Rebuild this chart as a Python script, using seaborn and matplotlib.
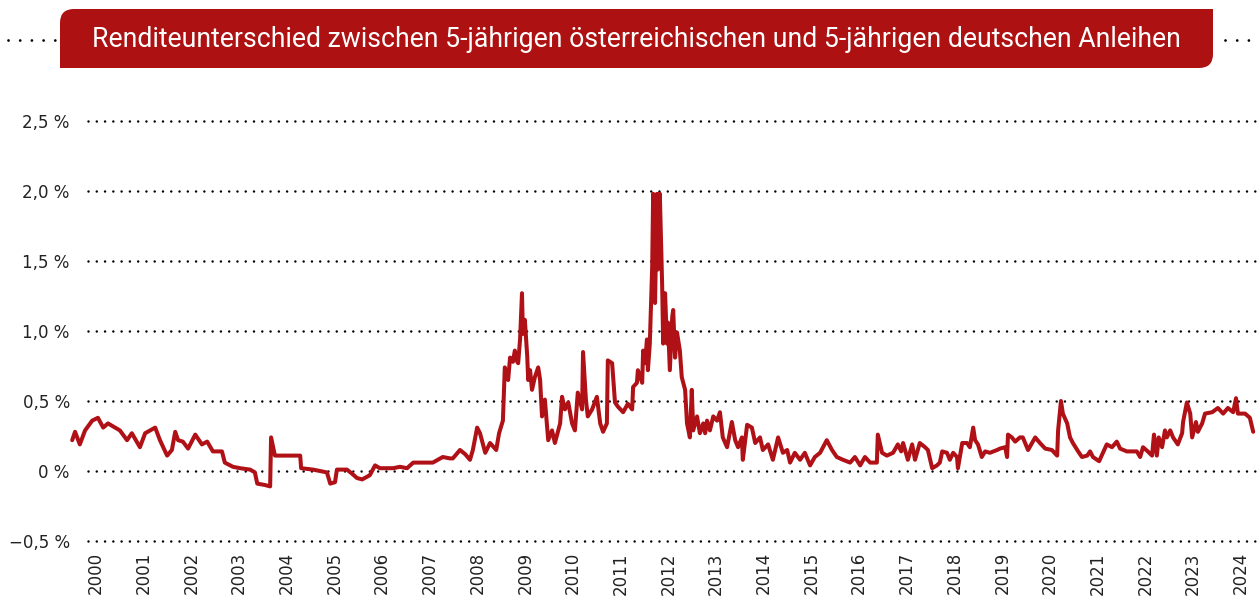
import seaborn as sns
import matplotlib.pyplot as plt
import pandas as pd
from matplotlib.path import Path
from matplotlib.patches import PathPatch

# Renditeunterschied AT-DE 5J (Prozentpunkte)
jahre = [
    1999.50, 1999.56, 1999.66, 1999.77, 1999.92, 2000.04, 2000.15, 2000.25, 2000.50, 2000.65,
    2000.75, 2000.92, 2001.03, 2001.24, 2001.34, 2001.49, 2001.59, 2001.66, 2001.72, 2001.82,
    2001.93, 2002.08, 2002.22, 2002.33, 2002.45, 2002.64, 2002.70, 2002.87, 2003.02, 2003.23,
    2003.33, 2003.38, 2003.54, 2003.65, 2003.67, 2003.75, 2004.23, 2004.28, 2004.30, 2004.55,
    2004.84, 2004.91, 2005.01, 2005.05, 2005.26, 2005.37, 2005.47, 2005.58, 2005.74, 2005.85,
    2005.95, 2006.23, 2006.37, 2006.52, 2006.65, 2006.86, 2007.06, 2007.27, 2007.42, 2007.48,
    2007.63, 2007.74, 2007.84, 2007.90, 2007.99, 2008.05, 2008.09, 2008.16, 2008.26, 2008.39,
    2008.45, 2008.53, 2008.57, 2008.64, 2008.68, 2008.74, 2008.78, 2008.83, 2008.85, 2008.89,
    2008.93, 2008.95, 2008.99, 2009.04, 2009.06, 2009.10, 2009.14, 2009.20, 2009.27, 2009.31,
    2009.35, 2009.41, 2009.48, 2009.56, 2009.62, 2009.73, 2009.77, 2009.83, 2009.90, 2009.98,
    2010.04, 2010.10, 2010.19, 2010.21, 2010.27, 2010.31, 2010.40, 2010.50, 2010.57, 2010.63,
    2010.71, 2010.73, 2010.82, 2010.88, 2010.94, 2011.05, 2011.15, 2011.24, 2011.26, 2011.34,
    2011.36, 2011.45, 2011.47, 2011.51, 2011.55, 2011.57, 2011.61, 2011.66, 2011.68, 2011.72,
    2011.76, 2011.78, 2011.82, 2011.87, 2011.89, 2011.93, 2011.97, 2011.99, 2012.03, 2012.08,
    2012.10, 2012.14, 2012.18, 2012.24, 2012.28, 2012.35, 2012.39, 2012.45, 2012.49, 2012.52,
    2012.60, 2012.66, 2012.73, 2012.77, 2012.81, 2012.87, 2012.94, 2013.02, 2013.08, 2013.14,
    2013.23, 2013.33, 2013.40, 2013.46, 2013.54, 2013.56, 2013.65, 2013.75, 2013.82, 2013.92,
    2013.98, 2014.09, 2014.19, 2014.30, 2014.40, 2014.49, 2014.55, 2014.65, 2014.76, 2014.86,
    2014.97, 2015.07, 2015.18, 2015.32, 2015.43, 2015.53, 2015.66, 2015.81, 2015.91, 2016.02,
    2016.12, 2016.23, 2016.37, 2016.39, 2016.48, 2016.58, 2016.71, 2016.81, 2016.88, 2016.92,
    2017.02, 2017.11, 2017.17, 2017.27, 2017.38, 2017.44, 2017.53, 2017.63, 2017.69, 2017.74,
    2017.84, 2017.90, 2017.97, 2018.05, 2018.07, 2018.16, 2018.26, 2018.32, 2018.39, 2018.43,
    2018.49, 2018.57, 2018.64, 2018.74, 2018.89, 2018.95, 2019.06, 2019.10, 2019.12, 2019.20,
    2019.27, 2019.37, 2019.43, 2019.54, 2019.69, 2019.79, 2019.90, 2020.04, 2020.15, 2020.17,
    2020.23, 2020.27, 2020.36, 2020.42, 2020.48, 2020.59, 2020.67, 2020.78, 2020.84, 2020.90,
    2021.03, 2021.11, 2021.19, 2021.30, 2021.40, 2021.47, 2021.61, 2021.82, 2021.89, 2021.95,
    2022.05, 2022.14, 2022.18, 2022.24, 2022.28, 2022.35, 2022.41, 2022.45, 2022.52, 2022.58,
    2022.68, 2022.77, 2022.79, 2022.87, 2022.94, 2022.98, 2023.06, 2023.10, 2023.19, 2023.25,
    2023.40, 2023.52, 2023.63, 2023.73, 2023.84, 2023.90, 2023.94, 2024.09, 2024.19, 2024.26,
]
spread = [
    0.22, 0.28, 0.19, 0.29, 0.36, 0.38, 0.31, 0.34, 0.29, 0.22,
    0.27, 0.17, 0.27, 0.31, 0.22, 0.11, 0.15, 0.28, 0.22, 0.21,
    0.16, 0.26, 0.19, 0.21, 0.14, 0.14, 0.06, 0.03, 0.02, 0.01,
    -0.01, -0.09, -0.10, -0.11, 0.24, 0.11, 0.11, 0.11, 0.02, 0.01,
    -0.01, -0.09, -0.08, 0.01, 0.01, -0.02, -0.05, -0.06, -0.03, 0.04,
    0.02, 0.02, 0.03, 0.02, 0.06, 0.06, 0.06, 0.10, 0.09, 0.09,
    0.15, 0.12, 0.08, 0.15, 0.31, 0.27, 0.22, 0.13, 0.20, 0.15,
    0.27, 0.36, 0.74, 0.65, 0.81, 0.78, 0.86, 0.78, 0.77, 0.94,
    1.27, 0.98, 1.08, 0.82, 0.65, 0.72, 0.58, 0.67, 0.74, 0.65,
    0.39, 0.51, 0.22, 0.29, 0.20, 0.34, 0.53, 0.44, 0.49, 0.34,
    0.29, 0.56, 0.44, 0.85, 0.51, 0.39, 0.44, 0.53, 0.34, 0.28,
    0.34, 0.79, 0.77, 0.49, 0.46, 0.42, 0.48, 0.44, 0.60, 0.63,
    0.72, 0.63, 0.86, 0.77, 0.94, 0.72, 0.91, 1.46, 1.98, 1.20,
    1.98, 1.44, 1.98, 1.31, 0.91, 1.27, 0.91, 1.06, 0.72, 1.10,
    1.15, 0.81, 0.99, 0.86, 0.67, 0.58, 0.34, 0.24, 0.58, 0.29,
    0.39, 0.27, 0.34, 0.27, 0.36, 0.29, 0.39, 0.36, 0.42, 0.24,
    0.17, 0.35, 0.22, 0.17, 0.24, 0.08, 0.33, 0.31, 0.20, 0.24,
    0.15, 0.19, 0.08, 0.24, 0.13, 0.15, 0.06, 0.13, 0.08, 0.13,
    0.04, 0.10, 0.13, 0.22, 0.15, 0.10, 0.08, 0.06, 0.10, 0.04,
    0.10, 0.06, 0.06, 0.26, 0.13, 0.11, 0.13, 0.19, 0.14, 0.20,
    0.08, 0.19, 0.08, 0.20, 0.17, 0.15, 0.02, 0.04, 0.06, 0.14,
    0.13, 0.08, 0.13, 0.10, 0.02, 0.20, 0.20, 0.17, 0.31, 0.22,
    0.19, 0.10, 0.14, 0.13, 0.15, 0.16, 0.17, 0.10, 0.26, 0.24,
    0.21, 0.24, 0.24, 0.15, 0.24, 0.20, 0.16, 0.15, 0.11, 0.29,
    0.50, 0.41, 0.34, 0.24, 0.20, 0.14, 0.10, 0.11, 0.14, 0.10,
    0.07, 0.13, 0.19, 0.17, 0.21, 0.16, 0.14, 0.14, 0.10, 0.17,
    0.14, 0.11, 0.26, 0.11, 0.24, 0.17, 0.29, 0.24, 0.29, 0.24,
    0.19, 0.27, 0.35, 0.49, 0.41, 0.24, 0.35, 0.28, 0.34, 0.41,
    0.42, 0.45, 0.41, 0.45, 0.42, 0.52, 0.41, 0.41, 0.38, 0.28,
]

y_ticks = [-0.5, 0.0, 0.5, 1.0, 1.5, 2.0, 2.5]
x_ticks = list(range(2000, 2025))
titel = "Renditeunterschied zwischen 5-jährigen österreichischen und 5-jährigen deutschen Anleihen"

rot = "#ae1111"
linie = "#b01116"


def pct(v):
    if v == 0:
        return "0 %"
    s = f"{abs(v):.1f}".replace(".", ",") + " %"
    return ("\u2212" + s) if v < 0 else s


df = pd.DataFrame({"jahr": jahre, "spread": spread})

sns.set_style("white")
plt.rcParams["font.family"] = ["DejaVu Sans"]

fig = plt.figure(figsize=(12.6, 6.07), dpi=100)
ax = fig.add_axes([0.0554, 0.0972, 0.9426, 0.7265])

x0, x1 = 1999.45, 2024.35
for y in y_ticks:
    ax.axhline(y, xmin=(1999.83 - x0) / (x1 - x0), xmax=(2024.3 - x0) / (x1 - x0),
               color="black", lw=1.8, linestyle=(0, (0.01, 3.3)),
               dash_capstyle="round", zorder=1)

sns.lineplot(data=df, x="jahr", y="spread", color=linie, lw=2.9, ax=ax, zorder=3)

ax.set_xlim(x0, x1)
ax.set_ylim(-0.55, 2.6)
ax.set_yticks(y_ticks)
ax.set_yticklabels([pct(v) for v in y_ticks])
ax.set_xticks(x_ticks)
ax.set_xticklabels([str(j) for j in x_ticks], rotation=90)
ax.tick_params(axis="y", length=0, pad=0, labelsize=12, colors="#222222")
ax.tick_params(axis="x", length=0, pad=3, labelsize=12, colors="#222222")
ax.set_xlabel("")
ax.set_ylabel("")
sns.despine(ax=ax, left=True, bottom=True)

# Titelbalken in Pixelkoordinaten
bg = fig.add_axes([0, 0, 1, 1], zorder=-1)
bg.set_xlim(0, 1260)
bg.set_ylim(607, 0)
bg.axis("off")
bx0, bx1, by0, by1, r = 60, 1213, 9, 68, 14
verts = [(bx0, by1), (bx0, by0 + r), (bx0, by0), (bx0 + r, by0), (bx1, by0),
         (bx1, by1 - r), (bx1, by1), (bx1 - r, by1), (bx0, by1)]
codes = [Path.MOVETO, Path.LINETO, Path.CURVE3, Path.CURVE3, Path.LINETO,
         Path.LINETO, Path.CURVE3, Path.CURVE3, Path.CLOSEPOLY]
bg.add_patch(PathPatch(Path(verts, codes), facecolor=rot, edgecolor="none"))
bg.text((bx0 + bx1) / 2, (by0 + by1) / 2 + 1, titel, color="white", ha="center",
        va="center", fontsize=19.2, family=["Roboto", "DejaVu Sans"])
for xa, xb in [(8, 56), (1225, 1258)]:
    bg.plot([xa, xb], [40, 40], color="black", lw=2, linestyle=(0, (0.01, 4.2)),
            dash_capstyle="round")

fig.savefig("out.png", dpi=100)
